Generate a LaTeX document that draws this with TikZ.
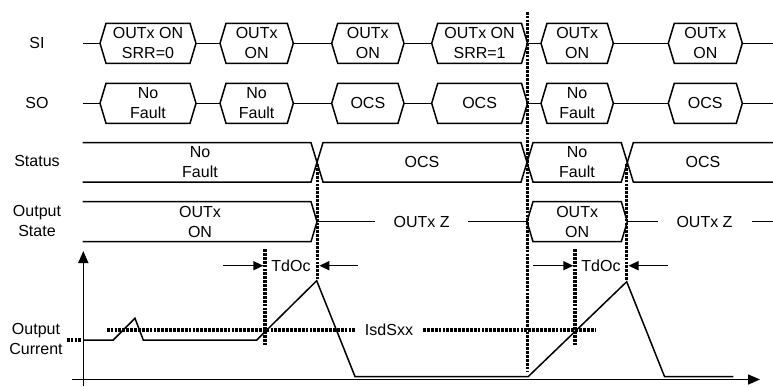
\documentclass[tikz,border=0pt]{standalone}
\usepackage{fontspec}
\setmainfont{Liberation Sans}
\usetikzlibrary{arrows.meta}
\tikzset{
  wave/.style={line width=1.5pt, line join=miter},
  dotl/.style={line width=3.4pt, dash pattern=on 2.8pt off 1.1pt},
  lbl/.style={font=\fontsize{16}{20}\selectfont, align=center, inner sep=0pt},
  arr/.style={line width=1.5pt, -{Triangle[length=10pt,width=9pt]}},
  axarr/.style={line width=1.5pt, -{Triangle[length=12pt,width=10pt]}},
}
\newcommand\hexbx[5]{%
  \draw[wave] (#2,#4) -- (#2+6,#4-20) -- (#3-6,#4-20) -- (#3,#4) -- (#3-6,#4+20) -- (#2+6,#4+20) -- cycle;
  \node[lbl] (#1) at ({(#2+#3)/2},#4) {#5};
  \coordinate (#1-l) at (#2,#4);
  \coordinate (#1-r) at (#3,#4);}
\begin{document}
\begin{tikzpicture}[x=1pt,y=-1pt]
\useasboundingbox (0,0) rectangle (773,386);
% left labels
\node[lbl] (lsi) at (37,43.3) {SI};
\node[lbl] (lso) at (37,103.3) {SO};
\node[lbl] (lst) at (37,161) {Status};
\node[lbl] (los) at (37,221) {Output\\State};
\node[lbl] (loc) at (36,339) {Output\\Current};
% SI row
\coordinate (si0) at (82.7,43.3);
\hexbx{si1}{100}{196}{43.3}{OUTx ON\\SRR=0}
\hexbx{si2}{220}{293.3}{43.3}{OUTx\\ON}
\hexbx{si3}{331.7}{404}{43.3}{OUTx\\ON}
\hexbx{si4}{431.7}{527.5}{43.3}{OUTx ON\\SRR=1}
\hexbx{si5}{541}{613.3}{43.3}{OUTx\\ON}
\hexbx{si6}{668.3}{742.3}{43.3}{OUTx\\ON}
\coordinate (si7) at (773,43.3);
\draw[wave] (si0) -- (si1-l) (si1-r) -- (si2-l) (si2-r) -- (si3-l) (si3-r) -- (si4-l)
  (si4-r) -- (si5-l) (si5-r) -- (si6-l) (si6-r) -- (si7);
% SO row
\coordinate (so0) at (82.7,103.3);
\hexbx{so1}{100}{196}{103.3}{No\\Fault}
\hexbx{so2}{220}{293.3}{103.3}{No\\Fault}
\hexbx{so3}{331.7}{404}{103.3}{OCS}
\hexbx{so4}{431.7}{527.5}{103.3}{OCS}
\hexbx{so5}{541}{613.3}{103.3}{No\\Fault}
\hexbx{so6}{668.3}{742.3}{103.3}{OCS}
\coordinate (so7) at (773,103.3);
\draw[wave] (so0) -- (so1-l) (so1-r) -- (so2-l) (so2-r) -- (so3-l) (so3-r) -- (so4-l)
  (so4-r) -- (so5-l) (so5-r) -- (so6-l) (so6-r) -- (so7);
% Status row
\draw[wave] (82.7,142.7) -- (311,142.7) -- (323,182) -- (521,182) -- (533,142.7) -- (621.3,142.7) -- (633.3,182) -- (773,182);
\draw[wave] (82.7,182) -- (311,182) -- (323,142.7) -- (521,142.7) -- (533,182) -- (621.3,182) -- (633.3,142.7) -- (773,142.7);
\node[lbl] (st1) at (200,162.3) {No\\Fault};
\node[lbl] (st2) at (422,162.3) {OCS};
\node[lbl] (st3) at (577,162.3) {No\\Fault};
\node[lbl] (st4) at (703,162.3) {OCS};
% Output state row
\draw[wave] (82.7,201.7) -- (311,201.7) -- (317,221.7) -- (311,241.7) -- (82.7,241.7);
\node[lbl] (os1) at (200,221.7) {OUTx\\ON};
\coordinate (os1-r) at (317,221.7);
\node[lbl] (osz1) at (421.7,221.7) {OUTx Z};
\coordinate (osz1-l) at (375,221.7);
\coordinate (osz1-r) at (468,221.7);
\hexbx{os2}{527}{627.3}{221.7}{OUTx\\ON}
\node[lbl] (osz2) at (704.5,221.7) {OUTx Z};
\coordinate (osz2-l) at (658,221.7);
\coordinate (osz2-r) at (751.7,221.7);
\coordinate (os3) at (773,221.7);
\draw[wave] (os1-r) -- (osz1-l) (osz1-r) -- (os2-l) (os2-r) -- (osz2-l) (osz2-r) -- (os3);
% axes
\coordinate (yax0) at (83.3,386);
\coordinate (yax1) at (83.3,251);
\coordinate (xax0) at (71.7,379.5);
\coordinate (xax1) at (760,379.5);
\draw[axarr] (yax0) -- (yax1);
\draw[axarr] (xax0) -- (xax1);
% output current waveform
\draw[wave] (83,340) -- (113.3,340) -- (135,318.3) -- (143.3,340) -- (256.7,340) -- (316.7,280.7)
  -- (355,376.5) -- (528.3,376.5) -- (626.7,281.7) -- (664.5,376.5) -- (733.3,376.5);
\draw[dotl] (66.7,340) -- (82,340);
% IsdSxx threshold
\node[lbl] (isd) at (389,330) {IsdSxx};
\coordinate (isd-l) at (106.7,330);
\coordinate (isd-r) at (595,330);
\draw[dotl] (isd-l) -- (356,330);
\draw[dotl] (423,330) -- (isd-r);
% vertical dotted markers
\draw[dotl] (265,249) -- (265,345);
\draw[dotl] (317.5,164) -- (317.5,279);
\draw[dotl] (527.3,11.7) -- (527.3,372);
\draw[dotl] (575,249) -- (575,345);
\draw[dotl] (626.7,164) -- (626.7,280);
% TdOc
\node[lbl] (td1) at (291,265.7) {TdOc};
\node[lbl] (td2) at (601,265.7) {TdOc};
\coordinate (td1a) at (223.3,265.7);
\coordinate (td1b) at (263.3,265.7);
\coordinate (td1c) at (358,265.7);
\coordinate (td1d) at (319.3,265.7);
\coordinate (td2a) at (533.3,265.7);
\coordinate (td2b) at (573.3,265.7);
\coordinate (td2c) at (668.3,265.7);
\coordinate (td2d) at (628.5,265.7);
\draw[arr] (td1a) -- (td1b);
\draw[arr] (td1c) -- (td1d);
\draw[arr] (td2a) -- (td2b);
\draw[arr] (td2c) -- (td2d);
\end{tikzpicture}
\end{document}
